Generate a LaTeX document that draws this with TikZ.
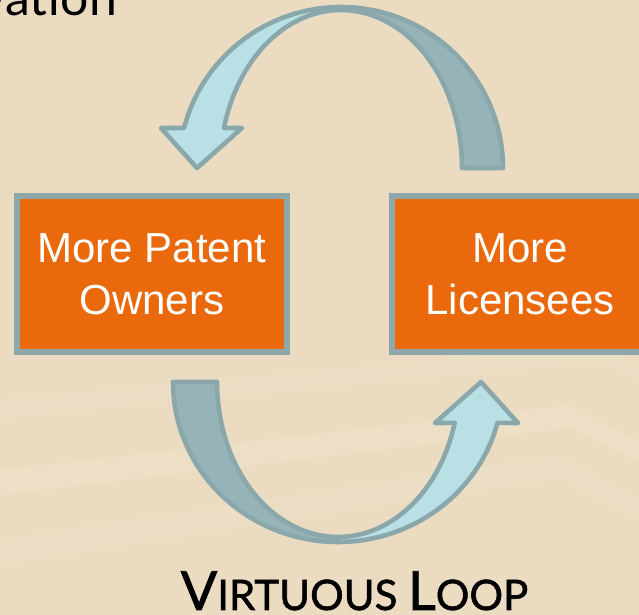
\documentclass[tikz,border=0pt]{standalone}
\usepackage{fontspec}
\setmainfont{Liberation Sans}
\newfontfamily\gill{Lato}
\newfontfamily\gillmed{Lato}[FakeBold=1.3]
\usepackage{xcolor}
\usetikzlibrary{positioning}

\definecolor{sand}{HTML}{EBDCC1}
\definecolor{boxfill}{HTML}{E9690C}
\definecolor{boxedge}{HTML}{8DA7AA}
\definecolor{ribbonedge}{HTML}{8AA8AC}
\definecolor{ribbondark}{HTML}{96B4B7}
\definecolor{ribbonlight}{HTML}{B9E0E4}

\begin{document}
\begin{tikzpicture}[x=0.5pt,y=-0.5pt,
  box/.style={draw=boxedge,line width=2.8pt,fill=boxfill,text=white,align=center,
    font=\fontsize{21}{26}\selectfont,minimum height=78.2pt,inner sep=0pt},
  face/.style={draw=ribbonedge,line width=2.3pt,line join=round,fill=ribbonlight},
  back/.style={face,fill=ribbondark}]
\clip (0,0) rectangle (639,615);
\fill[sand] (0,0) rectangle (639,615);
% light streaks in the backdrop
\fill[white,opacity=.09] (0,470) -- (570,405) -- (639,440) -- (639,462) -- (570,428) -- (0,495) -- cycle;
\fill[white,opacity=.07] (0,540) -- (560,455) -- (639,500) -- (639,520) -- (560,478) -- (0,565) -- cycle;
\fill[white,opacity=.06] (0,400) -- (600,345) -- (639,365) -- (639,380) -- (600,362) -- (0,418) -- cycle;

\node[anchor=base east,font=\gill\fontsize{25}{25}\selectfont] (title) at (124,16) {vation};

\node[box,minimum width=135.2pt] (owners) at (152,274) {More Patent\\Owners};
\node[box,minimum width=128.2pt,right=49.5pt of owners] (licensees) {More\\Licensees};

% upper ribbon: back half, then the face with its head
\draw[back] plot[variable=\t,domain=0:90,samples=40] ({341+162*cos(\t)},{168-161*sin(\t)})
  -- plot[variable=\t,domain=90:0,samples=40] ({341+121*cos(\t)},{168-158*sin(\t)}) -- cycle;
\draw[face] plot[variable=\t,domain=90:165.6,samples=40] ({341+162*cos(\t)},{168-161*sin(\t)})
  -- (161,128) -- (197,168) -- (242,128)
  -- plot[variable=\t,domain=165.3:90,samples=40] ({341+121*cos(\t)},{168-158*sin(\t)}) -- cycle;

% lower ribbon
\draw[back] plot[variable=\t,domain=180:270,samples=40] ({338+165*cos(\t)},{382-160*sin(\t)})
  -- plot[variable=\t,domain=270:180,samples=40] ({338+121*cos(\t)},{382-155*sin(\t)}) -- cycle;
\draw[face] plot[variable=\t,domain=270:345.2,samples=40] ({338+165*cos(\t)},{382-160*sin(\t)})
  -- (518,423) -- (481,382) -- (435,423)
  -- plot[variable=\t,domain=344.7:270,samples=40] ({338+121*cos(\t)},{382-155*sin(\t)}) -- cycle;

\node[anchor=base,font=\gillmed,inner sep=1pt] (loop) at (354.5,610)
  {\fontsize{27}{27}\selectfont V\fontsize{21}{21}\selectfont IRTUOUS
   \fontsize{27}{27}\selectfont L\fontsize{21}{21}\selectfont OOP};
\end{tikzpicture}
\end{document}
